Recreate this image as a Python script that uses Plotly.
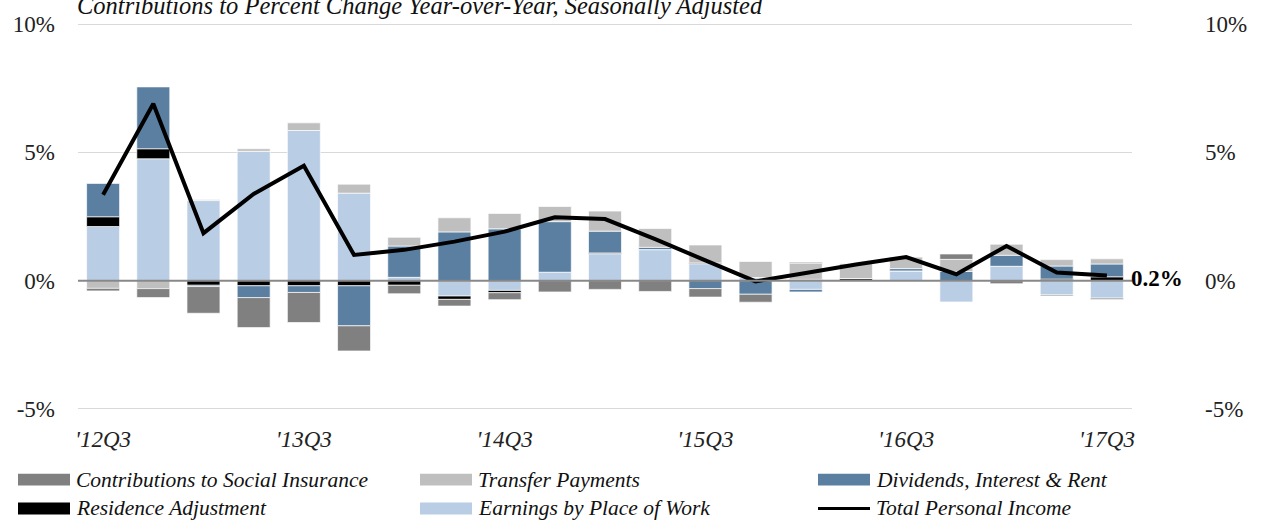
import plotly.graph_objects as go

# ---------------- data ----------------
quarters = ["'12Q3", "'12Q4", "'13Q1", "'13Q2", "'13Q3", "'13Q4", "'14Q1", "'14Q2",
            "'14Q3", "'14Q4", "'15Q1", "'15Q2", "'15Q3", "'15Q4", "'16Q1", "'16Q2",
            "'16Q3", "'16Q4", "'17Q1", "'17Q2", "'17Q3"]

earnings = [2.11, 4.75, 3.12, 5.04, 5.85, 3.41, 0.13, -0.60, -0.38, 0.33, 1.05,
            1.21, 0.66, 0.12, -0.34, 0.00, 0.38, -0.83, 0.56, -0.56, -0.68]
residence = [0.38, 0.39, -0.18, -0.20, -0.20, -0.20, -0.18, -0.13, -0.09, 0.00, 0.03,
             0.00, 0.03, 0.00, 0.05, 0.08, 0.00, 0.00, 0.00, 0.06, 0.15]
dividends = [1.30, 2.41, -0.05, -0.46, -0.26, -1.56, 1.22, 1.90, 2.02, 1.97, 0.85,
             0.09, -0.31, -0.53, -0.10, 0.00, 0.09, 0.36, 0.43, 0.51, 0.50]
transfer = [-0.30, -0.31, 0.04, 0.10, 0.30, 0.35, 0.34, 0.55, 0.60, 0.59, 0.78,
            0.73, 0.70, 0.63, 0.63, 0.60, 0.46, 0.47, 0.43, 0.25, 0.20]
contributions = [-0.10, -0.35, -1.04, -1.17, -1.17, -0.98, -0.33, -0.26, -0.27, -0.44, -0.34,
                 -0.42, -0.33, -0.31, 0.04, 0.00, 0.00, 0.21, -0.12, -0.04, -0.05]
total = [3.35, 6.89, 1.85, 3.38, 4.48, 1.00, 1.20, 1.52, 1.91, 2.47, 2.40,
         1.62, 0.79, -0.03, 0.30, 0.63, 0.92, 0.25, 1.35, 0.32, 0.20]

y_tick_vals = [-5, 0, 5, 10]
y_tick_text = ["-5%", "0%", "5%", "10%"]
x_tick_labels = quarters[::4]

title_text = "Contributions to Percent Change Year-over-Year, Seasonally Adjusted"

# series in stacking order (nearest the zero line first)
bar_series = [
    ("Earnings by Place of Work", earnings, "#B9CDE5"),
    ("Residence Adjustment", residence, "#000000"),
    ("Dividends, Interest & Rent", dividends, "#5A7FA1"),
    ("Transfer Payments", transfer, "#BFBFBF"),
    ("Contributions to Social Insurance", contributions, "#808080"),
]
line_name = "Total Personal Income"
line_color = "#000000"

# legend layout order (row-wise, 3 columns)
legend_order = ["Contributions to Social Insurance", "Transfer Payments",
                "Dividends, Interest & Rent", "Residence Adjustment",
                "Earnings by Place of Work", "Total Personal Income"]

FONT = "Liberation Serif"
W, H = 1263, 525
ML, MR, MT, MB = 78, 131, 21, 115
PW, PH = W - ML - MR, H - MT - MB
Y_RANGE = [-5.04, 10.04]


def px_x(px):
    return (px - ML) / PW


def px_y(py):
    return (H - MB - py) / PH


fig = go.Figure()
for name, vals, color in bar_series:
    fig.add_trace(go.Bar(
        x=quarters, y=vals, name=name,
        marker=dict(color=color, line=dict(color="rgba(255,255,255,0.85)", width=0.8)),
        showlegend=False,
    ))

fig.add_trace(go.Scatter(
    x=quarters, y=total, name=line_name, mode="lines",
    line=dict(color=line_color, width=4),
    yaxis="y2", showlegend=False,
))

shapes = [
    dict(type="line", xref="paper", yref="y", x0=0, x1=1, y0=0, y1=0,
         line=dict(color="#888888", width=2), layer="above"),
]
annotations = [
    dict(text=title_text, xref="paper", yref="paper", x=0, y=1,
         xanchor="left", yanchor="bottom", xshift=-3, yshift=2, showarrow=False,
         font=dict(family=FONT, size=24.5, style="italic", color="#111")),
    dict(text=f"{total[-1]:.1f}%", xref="x", yref="y", x=quarters[-1], y=total[-1],
         xanchor="left", yanchor="middle", xshift=22, yshift=-3, showarrow=False,
         font=dict(family=FONT, size=23, weight="bold", color="#000")),
]

# manual legend
colors = {n: c for n, _, c in bar_series}
col_x = [18, 420, 818]
row_y = [480, 509]
sw_w, sw_h = 52, 12
for i, name in enumerate(legend_order):
    cx = col_x[i % 3]
    ry = row_y[i // 3]
    if name == line_name:
        shapes.append(dict(type="line", xref="paper", yref="paper",
                           x0=px_x(cx), x1=px_x(cx + sw_w), y0=px_y(ry), y1=px_y(ry),
                           line=dict(color=line_color, width=3)))
    else:
        shapes.append(dict(type="rect", xref="paper", yref="paper",
                           x0=px_x(cx), x1=px_x(cx + sw_w),
                           y0=px_y(ry - sw_h / 2), y1=px_y(ry + sw_h / 2),
                           fillcolor=colors[name], line=dict(width=0)))
    annotations.append(dict(text=name, xref="paper", yref="paper",
                            x=px_x(cx + sw_w + 4), y=px_y(ry), xanchor="left",
                            yanchor="middle", showarrow=False,
                            font=dict(family=FONT, size=21.5, style="italic", color="#111")))

axis_font = dict(family=FONT, size=23, color="#222")

fig.update_layout(
    width=W, height=H,
    margin=dict(l=ML, r=MR, t=MT, b=MB, pad=0),
    paper_bgcolor="white", plot_bgcolor="white",
    barmode="relative", bargap=0.343,
    showlegend=False,
    font=dict(family=FONT, color="#222"),
    xaxis=dict(type="category", range=[-0.5, len(quarters) - 0.5],
               tickvals=x_tick_labels, ticktext=x_tick_labels,
               showgrid=False, zeroline=False, showline=False, ticks="",
               ticklabelstandoff=13,
               tickfont=dict(family=FONT, size=23, style="italic", color="#222")),
    yaxis=dict(range=Y_RANGE, tickvals=y_tick_vals, ticktext=y_tick_text,
               showgrid=True, gridcolor="#D9D9D9", gridwidth=1,
               zeroline=False, showline=False, ticks="",
               ticklabelstandoff=22, tickfont=axis_font),
    yaxis2=dict(range=Y_RANGE, overlaying="y", side="right",
                tickvals=y_tick_vals, ticktext=y_tick_text,
                showgrid=False, zeroline=False, showline=False, ticks="",
                ticklabelstandoff=72, tickfont=axis_font),
    shapes=shapes,
    annotations=annotations,
)

fig.write_html("out.html", config={"displayModeBar": False},
               post_script="document.body.style.margin='0';")
